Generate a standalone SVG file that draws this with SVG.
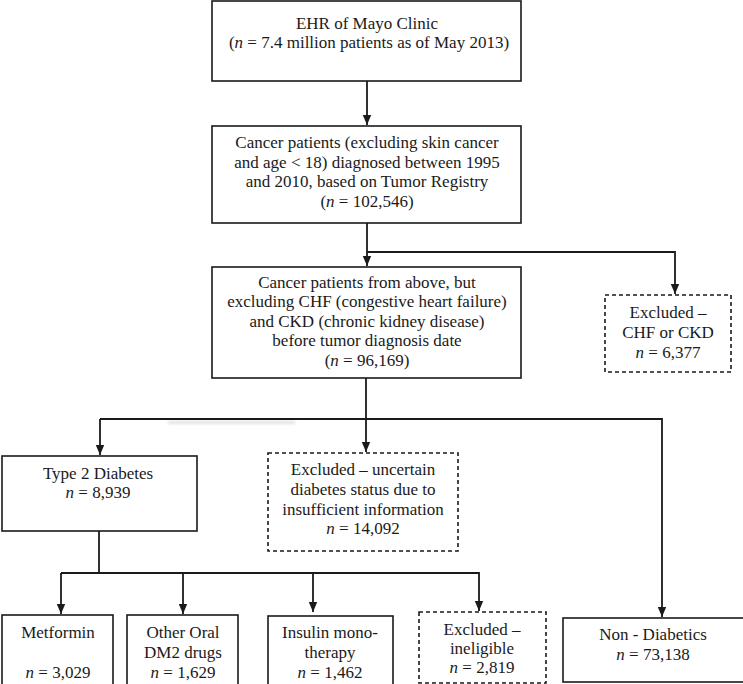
<svg xmlns="http://www.w3.org/2000/svg" width="743" height="684" viewBox="0 0 743 684">
  <style>
    .box { fill: #ffffff; stroke: #1a1a1a; stroke-width: 1.6; }
    .dash { fill: #ffffff; stroke: #1a1a1a; stroke-width: 1.6; stroke-dasharray: 4 3; }
    .wire { fill: none; stroke: #1a1a1a; stroke-width: 1.8; }
    text { font-family: "Liberation Serif", "Times New Roman", serif; font-size: 17px; fill: #1a1a1a; text-anchor: middle; }
    .it { font-style: italic; }
  </style>
  <defs>
    <marker id="arrow" markerUnits="userSpaceOnUse" markerWidth="10" markerHeight="10" viewBox="0 0 10 10" refX="10" refY="5" orient="auto">
      <path d="M0,0.8 L10,5 L0,9.2 Z" fill="#1a1a1a"/>
    </marker>
    <filter id="soft" x="-20%" y="-200%" width="140%" height="500%">
      <feGaussianBlur stdDeviation="1.5"/>
    </filter>
  </defs>
  <rect width="743" height="684" fill="#ffffff"/>

  <!-- faint smudge under the main split line -->
  <rect x="168" y="421" width="127" height="3" fill="#cccccc" opacity="0.6" filter="url(#soft)"/>

  <g id="connectors">
    <path class="wire" d="M367,81 V125" marker-end="url(#arrow)"/>
    <path class="wire" d="M367,223 V266" marker-end="url(#arrow)"/>
    <path class="wire" d="M367,252 H675 V294" marker-end="url(#arrow)"/>
    <path class="wire" d="M366,378 V452" marker-end="url(#arrow)"/>
    <path class="wire" d="M100,419 H662 V617" marker-end="url(#arrow)"/>
    <path class="wire" d="M100,419 V455" marker-end="url(#arrow)"/>
    <path class="wire" d="M99,531 V573"/>
    <path class="wire" d="M61,573 H479 V611" marker-end="url(#arrow)"/>
    <path class="wire" d="M61,573 V614" marker-end="url(#arrow)"/>
    <path class="wire" d="M183,573 V614" marker-end="url(#arrow)"/>
    <path class="wire" d="M313,573 V612" marker-end="url(#arrow)"/>
  </g>

  <g id="ehr">
    <rect class="box" x="212" y="1" width="309" height="80"/>
    <text x="367" y="29">EHR of Mayo Clinic</text>
    <text x="369" y="48">(<tspan class="it">n</tspan> = 7.4 million patients as of May 2013)</text>
  </g>

  <g id="cancer">
    <rect class="box" x="212" y="126" width="309" height="97"/>
    <text x="367" y="148">Cancer patients (excluding skin cancer</text>
    <text x="367" y="168">and age &lt; 18) diagnosed between 1995</text>
    <text x="367" y="187">and 2010, based on Tumor Registry</text>
    <text x="367" y="207">(<tspan class="it">n</tspan> = 102,546)</text>
  </g>

  <g id="cancer-no-chf-ckd">
    <rect class="box" x="212" y="267" width="309" height="111"/>
    <text x="367" y="288">Cancer patients from above, but</text>
    <text x="367" y="307">excluding CHF (congestive heart failure)</text>
    <text x="367" y="327">and CKD (chronic kidney disease)</text>
    <text x="367" y="346">before tumor diagnosis date</text>
    <text x="367" y="366">(<tspan class="it">n</tspan> = 96,169)</text>
  </g>

  <g id="excluded-chf-ckd">
    <rect class="dash" x="605" y="295" width="126" height="77"/>
    <text x="668" y="318">Excluded –</text>
    <text x="668" y="338">CHF or CKD</text>
    <text x="668" y="358"><tspan class="it">n</tspan> = 6,377</text>
  </g>

  <g id="type2">
    <rect class="box" x="2" y="456" width="195" height="75"/>
    <text x="98" y="479">Type 2 Diabetes</text>
    <text x="98" y="498"><tspan class="it">n</tspan> = 8,939</text>
  </g>

  <g id="excluded-uncertain">
    <rect class="dash" x="268" y="453" width="190" height="98"/>
    <text x="363" y="475">Excluded – uncertain</text>
    <text x="363" y="495">diabetes status due to</text>
    <text x="363" y="515">insufficient information</text>
    <text x="363" y="534"><tspan class="it">n</tspan> = 14,092</text>
  </g>

  <g id="metformin">
    <rect class="box" x="2" y="615" width="111" height="75"/>
    <text x="58" y="638">Metformin</text>
    <text x="58" y="678"><tspan class="it">n</tspan> = 3,029</text>
  </g>

  <g id="other-oral">
    <rect class="box" x="127" y="615" width="111" height="75"/>
    <text x="183" y="638">Other Oral</text>
    <text x="183" y="658">DM2 drugs</text>
    <text x="183" y="678"><tspan class="it">n</tspan> = 1,629</text>
  </g>

  <g id="insulin">
    <rect class="box" x="268" y="616" width="125" height="75"/>
    <text x="330" y="638">Insulin mono-</text>
    <text x="330" y="658">therapy</text>
    <text x="330" y="678"><tspan class="it">n</tspan> = 1,462</text>
  </g>

  <g id="excluded-ineligible">
    <rect class="dash" x="419" y="612" width="127" height="71"/>
    <text x="482" y="635">Excluded –</text>
    <text x="482" y="654">ineligible</text>
    <text x="482" y="673"><tspan class="it">n</tspan> = 2,819</text>
  </g>

  <g id="non-diabetics">
    <rect class="box" x="563" y="618" width="182" height="64"/>
    <text x="653" y="640">Non - Diabetics</text>
    <text x="653" y="660"><tspan class="it">n</tspan> = 73,138</text>
  </g>
</svg>
